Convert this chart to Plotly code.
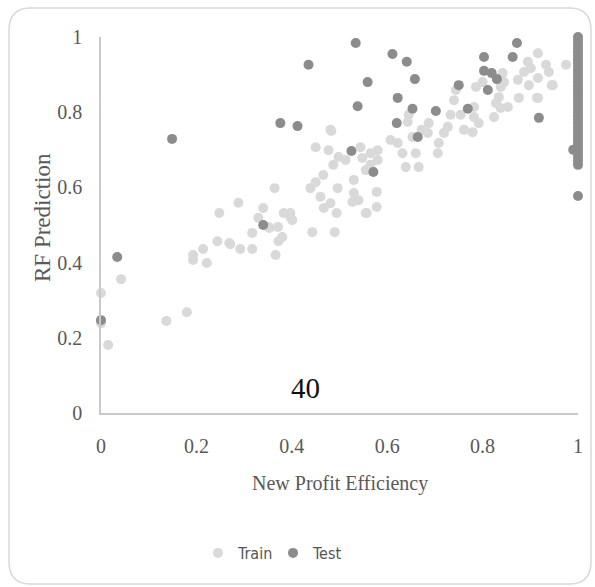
import plotly.graph_objects as go

# Training-set points: (new profit efficiency, RF prediction)
train_x = [0.0, 0.0, 0.015, 0.042, 0.137, 0.18, 0.193, 0.193, 0.214, 0.222,
           0.244, 0.248, 0.269, 0.271, 0.288, 0.292, 0.317, 0.317, 0.330, 0.340,
           0.351, 0.353, 0.364, 0.366, 0.371, 0.372, 0.380, 0.383, 0.397, 0.401,
           0.397, 0.443, 0.490, 0.439, 0.450, 0.466, 0.460, 0.467, 0.481, 0.496,
           0.494, 0.450, 0.477, 0.483, 0.487, 0.498, 0.513, 0.530, 0.530, 0.527,
           0.540, 0.555, 0.578, 0.578, 0.544, 0.548, 0.565, 0.580, 0.555, 0.565,
           0.580, 0.607, 0.622, 0.632, 0.639, 0.666, 0.660, 0.645, 0.643, 0.653,
           0.672, 0.685, 0.687, 0.706, 0.708, 0.719, 0.727, 0.733, 0.740, 0.744,
           0.754, 0.761, 0.779, 0.782, 0.782, 0.792, 0.786, 0.800, 0.824, 0.828,
           0.834, 0.838, 0.838, 0.845, 0.842, 0.876, 0.874, 0.895, 0.887, 0.897,
           0.901, 0.916, 0.916, 0.916, 0.933, 0.939, 0.947, 0.975, 0.853, 0.481,
           0.557, 0.945, 0.914]
train_y = [0.319, 0.239, 0.181, 0.356, 0.245, 0.268, 0.420, 0.407, 0.436, 0.399,
           0.457, 0.532, 0.452, 0.449, 0.559, 0.436, 0.436, 0.479, 0.519, 0.545,
           0.495, 0.492, 0.598, 0.420, 0.495, 0.457, 0.468, 0.532, 0.532, 0.513,
           0.521, 0.481, 0.481, 0.598, 0.614, 0.633, 0.575, 0.545, 0.558, 0.598,
           0.532, 0.707, 0.699, 0.750, 0.660, 0.681, 0.673, 0.620, 0.585, 0.561,
           0.566, 0.532, 0.548, 0.588, 0.707, 0.678, 0.691, 0.699, 0.646, 0.660,
           0.673, 0.726, 0.718, 0.691, 0.654, 0.654, 0.691, 0.793, 0.774, 0.734,
           0.753, 0.745, 0.771, 0.691, 0.718, 0.745, 0.761, 0.793, 0.832, 0.859,
           0.793, 0.753, 0.747, 0.787, 0.814, 0.771, 0.867, 0.880, 0.787, 0.824,
           0.840, 0.811, 0.867, 0.880, 0.904, 0.838, 0.886, 0.934, 0.907, 0.872,
           0.917, 0.957, 0.891, 0.838, 0.926, 0.907, 0.872, 0.926, 0.814, 0.753,
           0.532, 0.872, 0.838]

# Test-set points
test_x = [0.0, 0.034, 0.149, 0.340, 0.435, 0.376, 0.412, 0.534, 0.538, 0.525,
          0.559, 0.571, 0.611, 0.620, 0.622, 0.641, 0.653, 0.658, 0.664, 0.702,
          0.750, 0.769, 0.803, 0.803, 0.819, 0.830, 0.811, 0.863, 0.872, 0.918,
          0.99,
          1.0, 1.0, 1.0, 1.0, 1.0, 1.0, 1.0, 1.0, 1.0, 1.0,
          1.0, 1.0, 1.0, 1.0, 1.0, 1.0, 1.0, 1.0, 1.0, 1.0,
          1.0, 1.0, 1.0, 1.0, 1.0, 1.0, 1.0, 1.0, 1.0, 1.0,
          1.0, 1.0, 1.0, 1.0, 1.0, 1.0]
test_y = [0.247, 0.415, 0.729, 0.500, 0.926, 0.771, 0.763, 0.984, 0.816, 0.697,
          0.880, 0.641, 0.955, 0.771, 0.838, 0.934, 0.809, 0.888, 0.734, 0.803,
          0.872, 0.809, 0.947, 0.910, 0.904, 0.888, 0.859, 0.947, 0.984, 0.785,
          0.700,
          1.00, 0.99, 0.98, 0.97, 0.96, 0.95, 0.94, 0.93, 0.92, 0.91,
          0.90, 0.89, 0.88, 0.87, 0.86, 0.85, 0.84, 0.83, 0.82, 0.81,
          0.80, 0.79, 0.78, 0.77, 0.76, 0.75, 0.74, 0.73, 0.72, 0.71,
          0.70, 0.69, 0.68, 0.67, 0.66, 0.577]

tick_vals = [0, 0.2, 0.4, 0.6, 0.8, 1]
tick_text = ["0", "0.2", "0.4", "0.6", "0.8", "1"]

SERIF = "Liberation Serif"
TXT = "#595959"

fig = go.Figure()
fig.add_trace(go.Scatter(
    x=train_x, y=train_y, mode="markers", name="Train", cliponaxis=False,
    marker=dict(color="#d9d9d9", size=10, line=dict(width=0)),
))
fig.add_trace(go.Scatter(
    x=test_x, y=test_y, mode="markers", name="Test", cliponaxis=False,
    marker=dict(color="#8c8c8c", size=10, line=dict(width=0)),
))

# plot area: x 101..578 px, y 37..413 px
W, H = 595, 587
L, R, T, B = 101, 17, 37, 174
pw, ph = W - L - R, H - T - B


def px(x):
    return (x - L) / pw


def py(y):
    return (H - B - y) / ph


# rounded outer frame
x0, x1, y0, y1, r = 9, 591, 8, 584, 22
frame = (f"M {px(x0 + r)},{py(y0)} L {px(x1 - r)},{py(y0)} "
         f"Q {px(x1)},{py(y0)} {px(x1)},{py(y0 + r)} "
         f"L {px(x1)},{py(y1 - r)} Q {px(x1)},{py(y1)} {px(x1 - r)},{py(y1)} "
         f"L {px(x0 + r)},{py(y1)} Q {px(x0)},{py(y1)} {px(x0)},{py(y1 - r)} "
         f"L {px(x0)},{py(y0 + r)} Q {px(x0)},{py(y0)} {px(x0 + r)},{py(y0)} Z")
fig.add_shape(type="path", path=frame, xref="paper", yref="paper",
              line=dict(color="#d9d9d9", width=1.5), layer="below")

axis_common = dict(
    range=[0, 1], showgrid=False, zeroline=False, showline=True,
    linecolor="#c9c9c9", linewidth=1.5, ticks="",
    tickvals=tick_vals, ticktext=tick_text,
    tickfont=dict(family=SERIF, size=20, color=TXT),
)
fig.update_xaxes(**axis_common, ticklabelstandoff=14)
fig.update_yaxes(**axis_common, ticklabelstandoff=13)

fig.add_annotation(text="New Profit Efficiency", xref="paper", yref="paper",
                   x=px(340), y=py(483), showarrow=False,
                   xanchor="center", yanchor="middle",
                   font=dict(family=SERIF, size=20, color=TXT))
fig.add_annotation(text="RF Prediction", xref="paper", yref="paper",
                   x=px(42), y=py(218), showarrow=False, textangle=-90,
                   xanchor="center", yanchor="middle",
                   font=dict(family=SERIF, size=23, color=TXT))
fig.add_annotation(text="40", xref="paper", yref="paper",
                   x=px(305), y=py(388), showarrow=False,
                   xanchor="center", yanchor="middle",
                   font=dict(family=SERIF, size=29, color="#111111"))

fig.update_layout(
    width=W, height=H,
    margin=dict(l=L, r=R, t=T, b=B),
    paper_bgcolor="white", plot_bgcolor="white",
    showlegend=True,
    legend=dict(orientation="h", x=px(273), y=py(553), xanchor="center",
                yanchor="middle",
                font=dict(family="DejaVu Sans Condensed, Liberation Sans Narrow, sans-serif",
                          size=16, color="#555555"),
                itemwidth=30, entrywidth=30, tracegroupgap=0),
)

fig.write_html("out.html")
